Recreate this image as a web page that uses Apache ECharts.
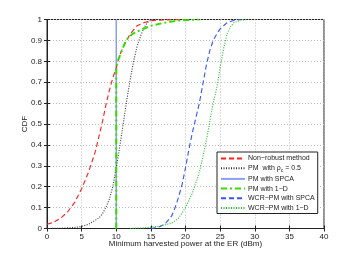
<!DOCTYPE html>
<html><head><meta charset="utf-8">
<script src="https://cdn.jsdelivr.net/npm/echarts@6/dist/echarts.min.js"></script>
<style>html,body{margin:0;padding:0;background:#fff}#c{width:359px;height:258px}</style>
</head><body><div id="c"></div>
<script>
const xTicks = [0, 5, 10, 15, 20, 25, 30, 35, 40];
const yTicks = [0, 0.1, 0.2, 0.3, 0.4, 0.5, 0.6, 0.7, 0.8, 0.9, 1];
const seriesNames = ['Non\u2212robust method', 'PM  with \u03c1_c = 0.5', 'PM with SPCA', 'PM with 1\u2212D', 'WCR\u2212PM with SPCA', 'WCR\u2212PM with 1\u2212D'];
const nonRobust = [[0,0.02],[1,0.03],[2,0.05],[3,0.08],[4,0.125],[5,0.19],[6,0.27],[7,0.37],[8,0.51],[8.5,0.59],[9,0.66],[9.5,0.72],[10,0.77],[10.5,0.83],[11,0.87],[11.5,0.9],[12,0.93],[13,0.97],[14,0.985],[15,0.994],[17,0.998],[20,1]];
const pmRho = [[0,0],[2,0.001],[4,0.005],[5,0.01],[6,0.02],[7,0.04],[7.5,0.05],[8,0.07],[8.5,0.1],[9,0.14],[9.5,0.2],[10,0.29],[10.5,0.39],[11,0.5],[11.5,0.61],[12,0.71],[12.5,0.8],[13,0.87],[13.5,0.92],[14,0.96],[14.5,0.985],[15,0.997],[16,1]];
const pmSpca = [[10,0],[10,1]];
const pm1d = [[10,0],[10,0.77],[10.2,0.8],[10.8,0.85],[11.4,0.9],[12.3,0.93],[13.5,0.95],[15,0.97],[17,0.985],[19,0.995],[21,0.999],[22,1]];
const wcrSpca = [[15,0],[16,0.005],[17,0.02],[18,0.06],[18.5,0.1],[19,0.15],[19.5,0.21],[20,0.29],[20.5,0.38],[21,0.46],[21.5,0.53],[22,0.6],[22.5,0.69],[23,0.78],[23.5,0.85],[24,0.9],[24.5,0.93],[25,0.955],[25.5,0.97],[26,0.985],[27,0.996],[28,1]];
const wcr1d = [[12,0],[14,0.003],[16,0.01],[18,0.025],[19,0.05],[20,0.1],[21,0.17],[22,0.27],[22.5,0.34],[23,0.42],[23.5,0.51],[24,0.6],[24.5,0.67],[25,0.77],[25.5,0.86],[26,0.93],[26.5,0.965],[27,0.985],[28,0.997],[29,1]];

const font = 'Liberation Sans';
const chart = echarts.init(document.getElementById('c'), null, {renderer: 'canvas'});
function mk(name, data, color, type, width, z) {
  return {name, type: 'line', data, showSymbol: false, symbol: 'none', z: z || 2,
    lineStyle: {color, type, width}, itemStyle: {color}, animation: false};
}
chart.setOption({
  animation: false,
  textStyle: {fontFamily: font},
  grid: {left: 47, top: 19.5, right: 35, bottom: 29.5, show: true, borderColor: '#222', borderWidth: 1},
  xAxis: [{type: 'value', min: 0, max: 40, interval: 5, position: 'bottom',
    axisLine: {show: true, lineStyle: {color: '#222'}}, axisTick: {inside: true, length: 3, lineStyle: {color: '#222'}},
    axisLabel: {color: '#222', fontSize: 8, margin: 4, fontFamily: font},
    splitLine: {show: true, lineStyle: {color: '#bbb', type: [1, 2], width: 1}},
    name: 'Minimum harvested power at the ER (dBm)', nameLocation: 'middle', nameGap: 11, nameMoveOverlap: false,
    nameTextStyle: {color: '#222', fontSize: 8, fontFamily: font}},
   {type: 'value', min: 0, max: 40, interval: 5, position: 'top',
    axisLine: {show: true, lineStyle: {color: '#222'}}, axisTick: {inside: true, length: 3, lineStyle: {color: '#222'}},
    axisLabel: {show: false}, splitLine: {show: false}}],
  yAxis: [{type: 'value', min: 0, max: 1, interval: 0.1, position: 'left',
    axisLine: {show: true, lineStyle: {color: '#222'}}, axisTick: {inside: true, length: 3, lineStyle: {color: '#222'}},
    axisLabel: {color: '#222', fontSize: 8, margin: 5, fontFamily: font},
    splitLine: {show: true, lineStyle: {color: '#bbb', type: [1, 2], width: 1}},
    name: 'CDF', nameLocation: 'middle', nameGap: 18, nameRotate: 90, nameMoveOverlap: false,
    nameTextStyle: {color: '#222', fontSize: 8, fontFamily: font}},
   {type: 'value', min: 0, max: 1, interval: 0.1, position: 'right',
    axisLine: {show: true, lineStyle: {color: '#222'}}, axisTick: {inside: true, length: 3, lineStyle: {color: '#222'}},
    axisLabel: {show: false}, splitLine: {show: false}}],
  legend: {show: true, orient: 'vertical', left: 217, top: 152, width: 98,
    backgroundColor: '#fff', borderColor: '#222', borderWidth: 1, padding: [3, 3, 2, 3],
    itemWidth: 24, itemHeight: 8, itemGap: 2.7,
    itemStyle: {opacity: 0},
    data: seriesNames,
    formatter: function (n) {
      if (n.indexOf('\u03c1_c') >= 0) return '{a|PM  with \u03c1}{s|c}{a| = 0.5}';
      return '{a|' + n + '}';
    },
    textStyle: {fontSize: 7, color: '#222', fontFamily: font, padding: [0, 0, 0, -2],
      rich: {a: {fontSize: 7, color: '#222', fontFamily: font}, s: {fontSize: 5, color: '#222', fontFamily: font, verticalAlign: 'bottom', padding: [4, 0, 0, 0]}}}
  },
  series: [
    mk(seriesNames[0], nonRobust, '#ff2020', [5, 3], 1.1, 3),
    mk(seriesNames[1], pmRho, '#333333', [1, 1.5], 1.1, 3),
    mk(seriesNames[2], pmSpca, '#8a9ff2', 'solid', 1.5, 2),
    mk(seriesNames[3], pm1d, '#33dd00', [6, 3, 2, 3], 2, 4),
    mk(seriesNames[4], wcrSpca, '#3355ff', [5, 3], 1.1, 3),
    mk(seriesNames[5], wcr1d, '#22bb22', [1, 1.5], 1.1, 3)
  ]
});
</script></body></html>
